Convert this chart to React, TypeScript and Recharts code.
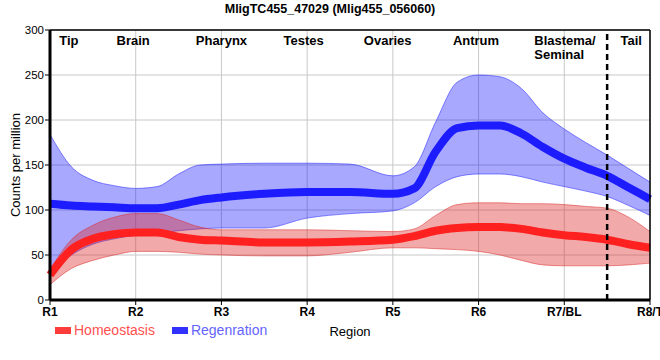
import React from 'react';
import {
  ComposedChart, Area, Line, XAxis, YAxis, CartesianGrid, ReferenceLine,
} from 'recharts';

// positions along the body (1 = R1 ... 8 = R8/T)
const positions = [1, 1.25, 1.5, 1.75, 2, 2.25, 2.5, 2.75, 3, 3.5, 4, 4.5, 5, 5.25, 5.5, 5.75, 6, 6.25, 6.5, 6.75, 7, 7.25, 7.5, 7.75, 8];

const homeoMean = [28, 56, 68, 73, 75, 75, 70, 67, 66, 64, 64, 65, 67, 71, 77, 80, 81, 81, 79, 75, 72, 70, 67, 62, 58];
const homeoLow = [17, 35, 44, 50, 54, 54, 53, 51, 50, 49, 49, 53, 58, 58, 57, 56, 54, 50, 44, 39, 38, 38, 38, 39, 41];
const homeoHigh = [34, 67, 83, 92, 96, 96, 89, 81, 78, 78, 78, 77, 76, 79, 94, 106, 108, 108, 107, 107, 106, 104, 102, 92, 76];

const regenMean = [107, 105, 104, 103, 102, 102, 106, 111, 114, 118, 120, 120, 118, 124, 165, 191, 194, 194, 185, 170, 157, 147, 138, 125, 112];
const regenLow = [30, 50, 62, 68, 72, 74, 77, 79, 80, 80, 91, 96, 99, 108, 126, 137, 140, 140, 137, 131, 126, 121, 115, 105, 94];
const regenHigh = [184, 148, 133, 127, 124, 126, 140, 150, 151, 152, 152, 151, 138, 148, 198, 242, 250, 248, 235, 208, 190, 175, 161, 146, 131];

const tickPositions = [1, 2, 3, 4, 5, 6, 7, 8];
const tickLabels = ['R1', 'R2', 'R3', 'R4', 'R5', 'R6', 'R7/BL', 'R8/T'];
const yTicks = [0, 50, 100, 150, 200, 250, 300];

const regionNames = [['Tip'], ['Brain'], ['Pharynx'], ['Testes'], ['Ovaries'], ['Antrum'], ['Blastema/', 'Seminal'], ['Tail']];
const regionPos = [1.22, 1.97, 3.0, 3.96, 4.94, 5.97, 6.65, 7.78];
const tailBoundary = 7.5;

const FONT = '"Liberation Sans", Arial, sans-serif';

const data = positions.map((x, i) => ({
  x,
  homeo: homeoMean[i],
  homeoBand: [homeoLow[i], homeoHigh[i]],
  regen: regenMean[i],
  regenBand: [regenLow[i], regenHigh[i]],
}));

const regionLabel = (lines: string[]) => (props: any) => {
  const { viewBox } = props;
  const left = lines.length > 1;
  return (
    <text
      x={viewBox.x}
      y={viewBox.y + 15}
      textAnchor={left ? 'start' : 'middle'}
      fontFamily={FONT}
      fontWeight="bold"
      fontSize={13}
      fill="#000"
    >
      {lines.map((l, i) => (
        <tspan key={l} x={viewBox.x} dy={i === 0 ? 0 : 14}>{l}</tspan>
      ))}
    </text>
  );
};

const App: React.FC = () => {
  return (
    <div style={{ position: 'absolute', left: 0, top: 0, width: 660, height: 360, background: '#fff', fontFamily: FONT }}>
      <div style={{ position: 'absolute', top: 2, left: 0, width: 660, textAlign: 'center', fontWeight: 'bold', fontSize: 12.5 }}>
        MligTC455_47029 (Mlig455_056060)
      </div>
      <ComposedChart width={660} height={360} data={data} margin={{ top: 30, right: 10, bottom: 30, left: 0 }}>
        <CartesianGrid stroke="#c8c8c8" strokeWidth={1} />
        <XAxis
          dataKey="x"
          type="number"
          domain={[1, 8]}
          ticks={tickPositions}
          tickFormatter={(v: number) => tickLabels[v - 1]}
          height={30}
          axisLine={{ stroke: '#000', strokeWidth: 3 }}
          tickLine={{ stroke: '#000' }}
          tickSize={5}
          tickMargin={2}
          tick={{ fill: '#000', fontSize: 12, fontWeight: 'bold', fontFamily: FONT }}
          interval={0}
          label={(p: any) => (
            <text x={p.viewBox.x + p.viewBox.width / 2} y={p.viewBox.y + 36} textAnchor="middle" fontFamily={FONT} fontSize={13} fill="#000">
              Region
            </text>
          )}
        />
        <YAxis
          domain={[0, 300]}
          ticks={yTicks}
          width={50}
          axisLine={{ stroke: '#000', strokeWidth: 3 }}
          tickLine={{ stroke: '#000' }}
          tickSize={5}
          tickMargin={1}
          tick={{ fill: '#000', fontSize: 11.5, fontFamily: FONT }}
          label={(p: any) => (
            <text
              x={15}
              y={p.viewBox.y + p.viewBox.height / 2}
              transform={`rotate(-90 15 ${p.viewBox.y + p.viewBox.height / 2})`}
              textAnchor="middle"
              dominantBaseline="central"
              fontFamily={FONT}
              fontSize={13}
              fill="#000"
            >
              Counts per million
            </text>
          )}
        />
        <Area
          dataKey="regenBand"
          type="monotone"
          stroke="rgba(40,40,255,0.55)"
          strokeWidth={1}
          fill="rgb(0,0,255)"
          fillOpacity={0.34}
          isAnimationActive={false}
        />
        <Area
          dataKey="homeoBand"
          type="monotone"
          stroke="rgba(220,40,40,0.5)"
          strokeWidth={1}
          fill="rgb(220,40,40)"
          fillOpacity={0.4}
          isAnimationActive={false}
        />
        <Line dataKey="homeo" type="monotone" stroke="#ff2020" strokeWidth={8} dot={false} isAnimationActive={false} />
        <Line dataKey="regen" type="monotone" stroke="#1c1cff" strokeWidth={8} dot={false} isAnimationActive={false} />
        <ReferenceLine x={8} stroke="#000" strokeWidth={1.5} />
        <ReferenceLine y={300} stroke="#000" strokeWidth={1.5} />
        <ReferenceLine x={tailBoundary} stroke="#000" strokeWidth={2.5} strokeDasharray="6 4" />
        {regionNames.map((lines, i) => (
          <ReferenceLine key={lines[0]} x={regionPos[i]} stroke="none" label={regionLabel(lines)} />
        ))}
      </ComposedChart>
      <div style={{ position: 'absolute', top: 322, left: 55, display: 'flex', alignItems: 'center', fontSize: 14 }}>
        <span style={{ display: 'inline-block', width: 16, height: 7, background: '#ff3c3c', marginRight: 3 }} />
        <span style={{ color: '#ff5050', marginRight: 17 }}>Homeostasis</span>
        <span style={{ display: 'inline-block', width: 16, height: 7, background: '#3232ff', marginRight: 3 }} />
        <span style={{ color: '#6464ff' }}>Regenration</span>
      </div>
    </div>
  );
};

export default App;
